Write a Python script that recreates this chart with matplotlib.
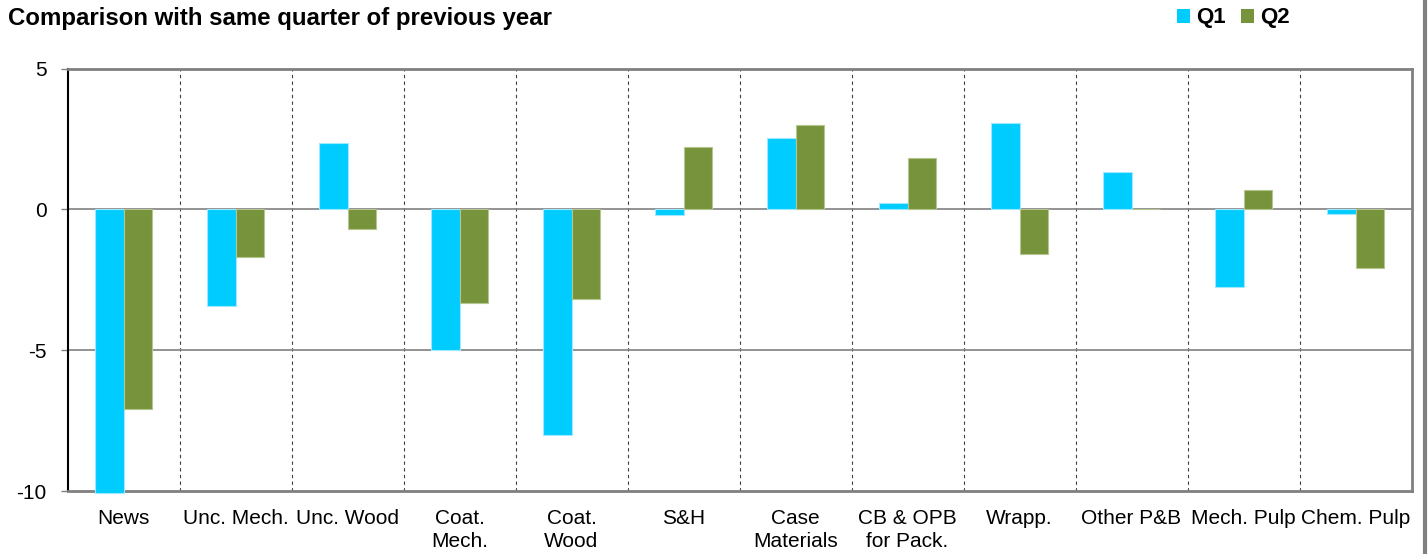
import matplotlib
matplotlib.use("Agg")
import matplotlib.pyplot as plt
from matplotlib.patches import Patch
from matplotlib.lines import Line2D
import numpy as np

plt.rcParams['font.family'] = ['Liberation Sans', 'DejaVu Sans']

categories = ["News", "Unc. Mech.", "Unc. Wood", "Coat.\nMech.", "Coat.\nWood", "S&H",
              "Case\nMaterials", "CB & OPB\nfor Pack.", "Wrapp.", "Other P&B",
              "Mech. Pulp", "Chem. Pulp"]
q1 = [-10.07, -3.43, 2.34, -5.0, -8.0, -0.21, 2.53, 0.21, 3.07, 1.31, -2.77, -0.18]
q2 = [-7.09, -1.68, -0.69, -3.34, -3.2, 2.23, 2.98, 1.84, -1.57, 0.0, 0.67, -2.1]
series_names = ["Q1", "Q2"]
yticks = [-10, -5, 0, 5]

c1 = "#00CCFF"
c2 = "#77933C"

W, H = 1428, 554
fig = plt.figure(figsize=(W / 100, H / 100), dpi=100)
ax = fig.add_axes([67.5 / W, 1 - 491 / H, (1411.5 - 67.5) / W, (491 - 68.5) / H])

x = np.arange(len(categories))
bw = 0.256
ax.bar(x - bw / 2, q1, bw, color=c1, edgecolor="#9FE8FF", linewidth=0.8, zorder=3, clip_on=False)
ax.bar(x + bw / 2, q2, bw, color=c2, edgecolor="#B5C78F", linewidth=0.8, zorder=3, clip_on=False)

ax.set_xlim(-0.5, len(categories) - 0.5)
ax.set_ylim(-10, 5)
ax.set_yticks(yticks)
ax.set_yticklabels([str(v) for v in yticks], fontsize=15)
ax.set_xticks(x)
ax.set_xticklabels(categories, fontsize=15, linespacing=1.25)
ax.tick_params(axis="x", length=0, pad=13)
ax.tick_params(axis="y", length=5, width=1, color="#808080", pad=10, direction="out")

for yv in [-5, 0, 5]:
    ax.axhline(yv, color="#808080", linewidth=1.2, zorder=2)
for xv in np.arange(0.5, len(categories) - 0.5, 1):
    ax.axvline(xv, color="#404040", linewidth=0.8, linestyle=(0, (3, 3)), zorder=1)

ax.spines["left"].set_color("black")
ax.spines["left"].set_linewidth(1.5)
for s in ["top", "right", "bottom"]:
    ax.spines[s].set_color("#808080")
    ax.spines[s].set_linewidth(2)

fig.text(8 / W, 1 - 18 / H, "Comparison with same quarter of previous year",
         fontsize=17.3, fontweight="bold", va="center", ha="left")

handles = [Patch(facecolor=c1, edgecolor="none"), Patch(facecolor=c2, edgecolor="none")]
fig.legend(handles, series_names, loc="center left", bbox_to_anchor=(1177 / W, 1 - 18 / H),
           ncol=2, frameon=False, handlelength=0.6, handleheight=0.6, handletextpad=0.25,
           columnspacing=0.7, borderaxespad=0, borderpad=0,
           prop={"weight": "bold", "size": 16})

fig.add_artist(Line2D([1425 / W, 1425 / W], [0, 1], transform=fig.transFigure,
                      color="#808080", linewidth=3))

fig.savefig("out.png", dpi=100)
